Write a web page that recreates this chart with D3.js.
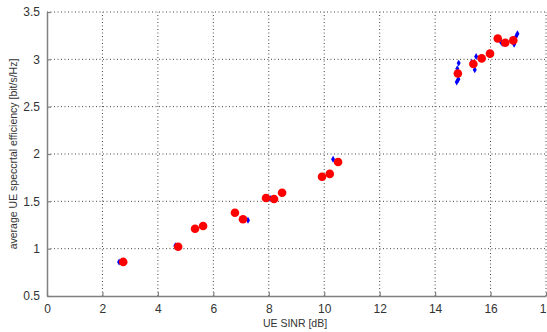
<!DOCTYPE html>
<html>
<head>
<meta charset="utf-8">
<script src="https://cdn.jsdelivr.net/npm/d3@7"></script>
<style>
  body { margin: 0; background: #fff; }
  svg { display: block; font-family: "Liberation Sans", Arial, sans-serif; }
</style>
</head>
<body>
<div id="chart"></div>
<script>
// red markers (mean values)
const redX = [2.75, 4.73, 5.34, 5.63, 6.78, 7.07, 7.9, 8.19, 8.48, 9.92, 10.2, 10.5,
              14.82, 15.38, 15.68, 15.98, 16.26, 16.53, 16.82]
const redY = [0.86, 1.02, 1.21, 1.24, 1.38, 1.31, 1.535, 1.525, 1.59, 1.76, 1.79, 1.915,
              2.85, 2.95, 3.01, 3.06, 3.22, 3.175, 3.2]
// blue markers (individual runs)
const blueX = [2.6, 4.63, 7.25, 8.05, 10.32, 14.85, 14.8, 14.84, 14.78, 15.32, 15.48, 15.43,
               16.06, 16.36, 16.42, 16.85, 16.97, 16.92]
const blueY = [0.86, 1.03, 1.30, 1.53, 1.945, 2.96, 2.9, 2.79, 2.76, 2.97, 3.03, 2.89,
               3.06, 3.19, 3.17, 3.16, 3.27, 3.24]
const xTicks = [0, 2, 4, 6, 8, 10, 12, 14, 16, 18]
const yTicks = [0.5, 1, 1.5, 2, 2.5, 3, 3.5]

const W = 547, H = 332
const m = { l: 47, r: 1, t: 12, b: 36 }

const svg = d3.select('#chart').append('svg')
  .attr('width', W).attr('height', H)

const x = d3.scaleLinear().domain([0, 18]).range([m.l, W - m.r])
const y = d3.scaleLinear().domain([0.5, 3.5]).range([H - m.b, m.t])

// dotted grid
svg.append('g').selectAll('line').data(xTicks.slice(1)).enter().append('line')
  .attr('x1', d => x(d)).attr('x2', d => x(d))
  .attr('y1', y(0.5)).attr('y2', y(3.5))
  .attr('stroke', '#444').attr('stroke-width', 1).attr('stroke-dasharray', '1,2.5')
svg.append('g').selectAll('line').data(yTicks.slice(1)).enter().append('line')
  .attr('x1', x(0)).attr('x2', x(18))
  .attr('y1', d => y(d)).attr('y2', d => y(d))
  .attr('stroke', '#444').attr('stroke-width', 1).attr('stroke-dasharray', '1,2.5')

// axes (ticks pointing inward)
const xAxis = svg.append('g')
  .attr('transform', `translate(0,${y(0.5)})`)
  .call(d3.axisBottom(x).tickValues(xTicks).tickSize(-4).tickPadding(8).tickSizeOuter(0))
const yAxis = svg.append('g')
  .attr('transform', `translate(${x(0)},0)`)
  .call(d3.axisLeft(y).tickValues(yTicks).tickSize(-4).tickPadding(7).tickSizeOuter(0)
    .tickFormat(d3.format('')))
;[xAxis, yAxis].forEach(a => {
  a.select('.domain').attr('stroke', '#808080').attr('stroke-width', 1.5)
  a.selectAll('.tick line').attr('stroke', '#808080').attr('stroke-width', 1.2)
  a.selectAll('.tick text').attr('fill', '#333').style('font-size', '12px')
})

// markers: blue first, red circles on top
const diamond = d3.symbol().type(d3.symbolDiamond).size(14)
svg.append('g').selectAll('path').data(blueX).enter().append('path')
  .attr('d', diamond)
  .attr('transform', (d, i) => `translate(${x(d)},${y(blueY[i])})`)
  .attr('fill', '#00f')
svg.append('g').selectAll('circle').data(redX).enter().append('circle')
  .attr('cx', d => x(d)).attr('cy', (d, i) => y(redY[i]))
  .attr('r', 4.3).attr('fill', '#f00')

// labels
svg.append('text')
  .attr('x', 295).attr('y', 327)
  .attr('text-anchor', 'middle').attr('fill', '#333').style('font-size', '10.5px')
  .text('UE SINR [dB]')
svg.append('text')
  .attr('transform', `translate(17,${(33 + 275) / 2}) rotate(-90)`)
  .attr('text-anchor', 'middle').attr('fill', '#333').style('font-size', '10.5px')
  .text('average UE speccrtal efficiency [bit/s/Hz]')
</script>
</body>
</html>
